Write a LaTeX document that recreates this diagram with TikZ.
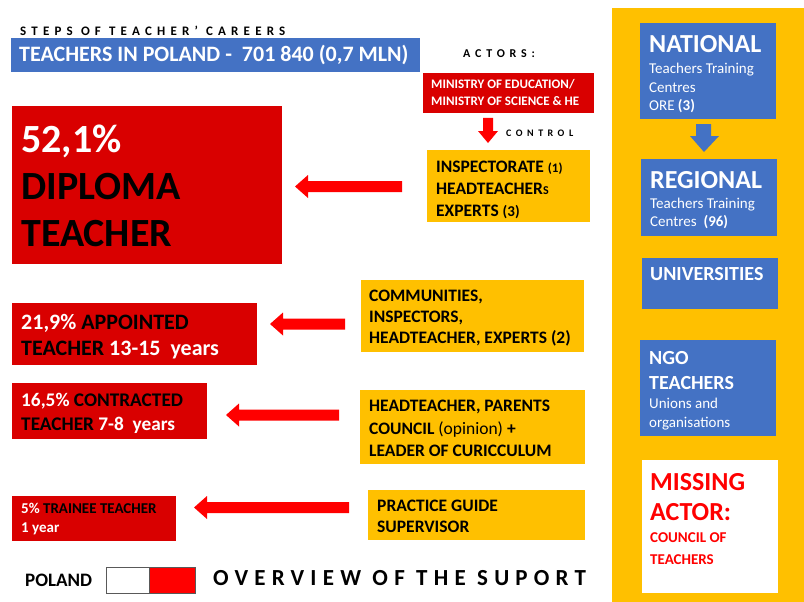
\documentclass[tikz,border=0pt]{standalone}
\usepackage{fontspec}
\setmainfont{Carlito}
\definecolor{bred}{HTML}{D90000}
\definecolor{ared}{HTML}{FF0000}
\definecolor{yel}{HTML}{FFC000}
\definecolor{blu}{HTML}{4472C4}
\newcommand\LArrow[3]{%
  \fill[ared] (#1,#3) -- (#1+13,#3-11.5) -- (#1+13,#3-5.5) -- (#2,#3-5.5)
    -- (#2,#3+5.5) -- (#1+13,#3+5.5) -- (#1+13,#3+11.5) -- cycle;}
\begin{document}
\begin{tikzpicture}[x=1pt,y=-1pt,
  bx/.style={anchor=north west, inner sep=0, outer sep=0, draw=none},
  rbox/.style={bx, fill=bred},
  ybox/.style={bx, fill=yel},
  bbox/.style={bx, fill=blu},
  txt/.style={anchor=west, align=left, inner sep=0, font=\bfseries},
  spaced/.style={anchor=west, inner sep=0}]
\useasboundingbox (0,0) rectangle (804,602);
\fill[white] (0,0) rectangle (804,602);

% title
\node[spaced, font=\bfseries\fontsize{13}{15}\selectfont\addfontfeature{LetterSpace=40}] (steps) at (20,31) {STEPS OF TEACHER’ CAREERS};
\node[bbox, minimum width=409, minimum height=34] (bar) at (11,38) {};
\node[txt, text=white, font=\bfseries\fontsize{22}{24}\selectfont] (bartxt) at (19,55) {TEACHERS IN POLAND -\ \ 701 840 (0,7 MLN)};

% actors
\node[spaced, font=\bfseries\fontsize{12}{14}\selectfont\addfontfeature{LetterSpace=40}] (actors) at (463,54) {ACTORS:};
\node[rbox, minimum width=171, minimum height=40] (ministry) at (423,73) {};
\node[txt, text=white, font=\bfseries\fontsize{13}{17}\selectfont] (ministrytxt) at (431,92.5) {MINISTRY OF EDUCATION/\\MINISTRY OF SCIENCE \& HE};
\fill[ared] (483,118) -- (493,118) -- (493,131) -- (498,131) -- (488,143) -- (478,131) -- (483,131) -- cycle;
\node[spaced, font=\bfseries\fontsize{10}{12}\selectfont\addfontfeature{LetterSpace=45}] (control) at (506,133) {CONTROL};

\node[ybox, minimum width=163, minimum height=72] (insp) at (427,150) {};
\node[txt, font=\bfseries\fontsize{17.5}{22}\selectfont] (insptxt) at (436,190) {INSPECTORATE {\fontsize{13}{13}\selectfont(1)}\\HEADTEACHER{\fontsize{12}{13}\selectfont S}\\EXPERTS {\fontsize{15}{13}\selectfont(3)}};

% diploma
\node[rbox, minimum width=270, minimum height=158] (diploma) at (12,106) {};
\node[txt, font=\bfseries\fontsize{40}{47}\selectfont] (diplomatxt) at (21,186) {\textcolor{white}{52,1\%}\\DIPLOMA\\TEACHER};
\LArrow{295}{402}{186.5}

% appointed
\node[rbox, minimum width=245, minimum height=62] (appointed) at (12,303) {};
\node[txt, text=white, font=\bfseries\fontsize{22}{26}\selectfont] (appointedtxt) at (21,336.5) {21,9\% \textcolor{black}{APPOINTED}\\\textcolor{black}{TEACHER} 13-15\ \ years};
\LArrow{270}{345}{324}
\node[ybox, minimum width=223, minimum height=72] (comm) at (361,280) {};
\node[txt, font=\bfseries\fontsize{17.5}{21}\selectfont] (commtxt) at (369,318.5) {COMMUNITIES,\\INSPECTORS,\\HEADTEACHER, EXPERTS (2)};

% contracted
\node[rbox, minimum width=195, minimum height=56] (contracted) at (12,383) {};
\node[txt, text=white, font=\bfseries\fontsize{19.3}{24}\selectfont] (contractedtxt) at (21,413) {16,5\% \textcolor{black}{CONTRACTED}\\\textcolor{black}{TEACHER} 7-8\ \ years};
\LArrow{226}{339}{415}
\node[ybox, minimum width=225, minimum height=74] (head) at (360,390) {};
\node[txt, font=\bfseries\fontsize{17.5}{22.5}\selectfont] (headtxt) at (369,428.5) {HEADTEACHER, PARENTS\\COUNCIL {\mdseries(opinion)} +\\LEADER OF CURICCULUM};

% trainee
\node[rbox, minimum width=164, minimum height=45] (trainee) at (12,496) {};
\node[txt, text=white, font=\bfseries\fontsize{15}{19}\selectfont] (traineetxt) at (21,519.5) {5\% \textcolor{black}{TRAINEE TEACHER}\\1 year};
\LArrow{194}{349}{507.5}
\node[ybox, minimum width=217, minimum height=50] (practice) at (368,490) {};
\node[txt, font=\bfseries\fontsize{17.5}{21}\selectfont] (practicetxt) at (377,516.5) {PRACTICE GUIDE\\SUPERVISOR};

% legend
\node[txt, font=\bfseries\fontsize{19}{20}\selectfont] (poland) at (25,580) {POLAND};
\node[bx, fill=white, minimum width=43, minimum height=26] (flagw) at (106,567) {};
\node[bx, fill=ared, minimum width=46, minimum height=26] (flagr) at (149,567) {};
\draw[gray!70!black, line width=0.8] (flagw.north west) rectangle (flagr.south east);
\draw[gray!70!black, line width=0.8] (flagw.north east) -- (flagw.south east);
\node[spaced, font=\bfseries\fontsize{23}{24}\selectfont\addfontfeature{LetterSpace=27}] (overview) at (213,578) {OVERVIEW OF THE SUPORT};

% right panel
\node[bx, fill=yel, minimum width=192, minimum height=594] (panel) at (612,8) {};
\node[bbox, minimum width=136, minimum height=96] (national) at (640,23) {};
\node[txt, text=white, font=\bfseries\fontsize{26}{26}\selectfont] (nat1) at (649,44) {NATIONAL};
\node[txt, text=white, font=\mdseries\fontsize{15}{18.5}\selectfont] (nat2) at (649,88) {Teachers Training\\Centres\\ORE \textbf{(3)}};
\fill[blu] (696,124) -- (711,124) -- (711,136) -- (719,136) -- (704,152) -- (690,136) -- (696,136) -- cycle;
\node[bbox, minimum width=136, minimum height=77] (regional) at (641,159) {};
\node[txt, text=white, font=\bfseries\fontsize{26}{26}\selectfont] (reg1) at (650,180) {REGIONAL};
\node[txt, text=white, font=\mdseries\fontsize{15}{18.5}\selectfont] (reg2) at (650,213.5) {Teachers Training\\Centres\ \ \textbf{(96)}};
\node[bbox, minimum width=136, minimum height=51] (univ) at (642,258) {};
\node[txt, text=white, font=\bfseries\fontsize{20}{20}\selectfont] (univtxt) at (650,274) {UNIVERSITIES};
\node[bbox, minimum width=136, minimum height=96] (ngo) at (640,340) {};
\node[txt, text=white, font=\bfseries\fontsize{20}{25}\selectfont] (ngo1) at (649,371) {NGO\\TEACHERS};
\node[txt, text=white, font=\mdseries\fontsize{15}{19}\selectfont] (ngo2) at (649,414) {Unions and\\organisations};
\node[bx, fill=white, minimum width=136, minimum height=133] (missing) at (642,460) {};
\node[txt, text=ared, font=\bfseries\fontsize{26}{30}\selectfont] (miss1) at (650,482) {MISSING};
\node[txt, text=ared, font=\bfseries\fontsize{26}{30}\selectfont] (miss2) at (650,512) {ACTOR:};
\node[txt, text=ared, font=\bfseries\fontsize{15}{22}\selectfont] (miss3) at (650,549) {COUNCIL OF\\TEACHERS};
\end{tikzpicture}
\end{document}
